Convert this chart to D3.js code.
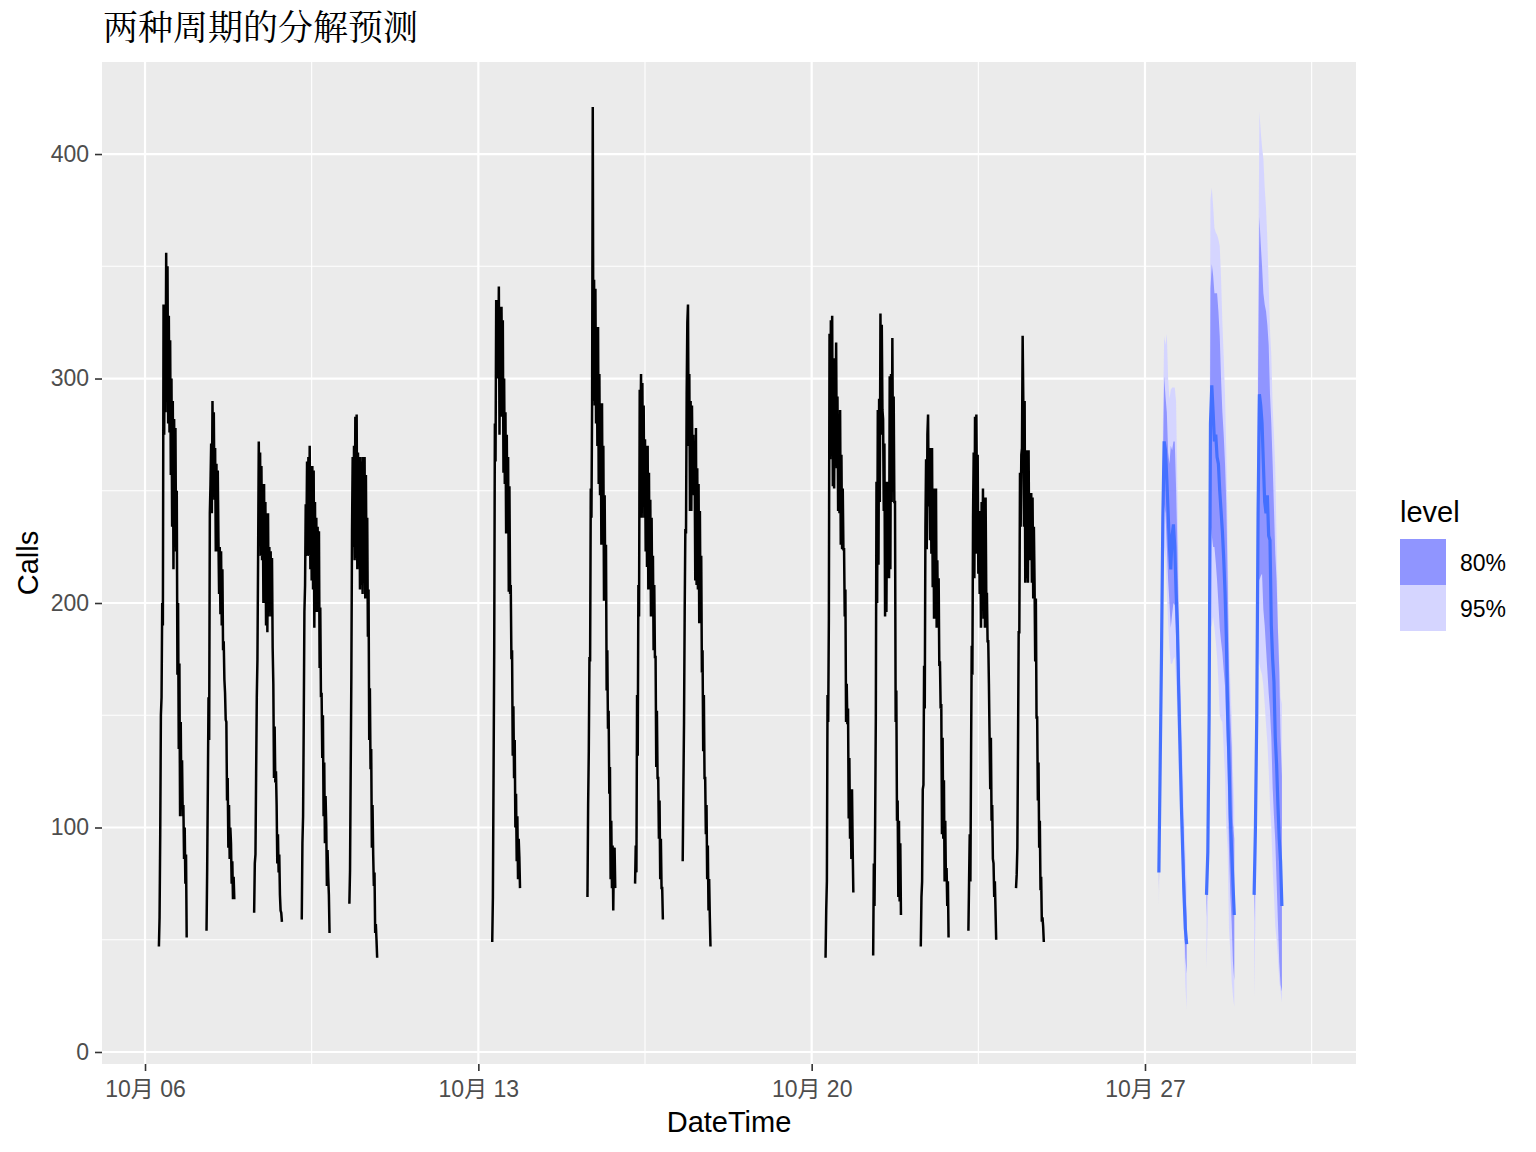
<!DOCTYPE html>
<html>
<head>
<meta charset="utf-8">
<script src="https://cdn.jsdelivr.net/npm/d3@7"></script>
<style>
  body { margin: 0; background: #fff; }
</style>
</head>
<body>
<div id="chart"></div>
<script>
/* call volume: 3 weeks of history + 3 day decomposition forecast */

// history, one value per 20 minutes from 07:00 to 21:00
const oct06 = [47,60,97,150,158,200,190,333,275,330,285,356,290,350,280,328,276,317,257,300,234,290,215,282,248,278,223,250,168,200,135,173,105,147,112,130,105,110,86,100,75,88,51];
const oct07 = [54,82,118,158,139,240,253,271,240,290,255,285,246,269,223,262,223,259,229,204,225,195,223,190,215,179,183,166,160,148,147,112,122,91,110,86,100,93,75,85,68,78,68];
const oct08 = [62,84,88,124,158,175,221,272,230,267,221,261,219,250,200,253,202,245,190,240,187,240,194,225,198,223,194,220,180,164,122,145,120,125,110,84,97,80,88,70,63,62,58];
const oct09 = [59,93,105,147,196,208,244,227,263,221,265,221,270,215,261,210,261,206,259,189,245,196,238,196,234,196,232,171,198,158,160,131,150,105,129,93,114,101,74,90,78,70,53];
const oct10 = [66,81,126,168,232,265,225,270,219,283,220,284,215,267,232,265,206,265,208,263,204,265,210,265,202,257,208,238,185,206,139,162,126,135,91,110,88,74,80,53,57,50,42];
const oct13 = [49,69,124,179,280,263,335,300,335,302,341,275,332,283,332,290,326,258,300,253,285,231,275,231,265,205,252,204,208,175,179,132,154,122,139,100,115,85,105,77,95,87,73];
const oct15 = [69,110,134,176,174,251,238,288,421,290,344,288,340,280,323,270,323,253,302,248,289,226,289,226,270,201,248,201,226,161,179,144,152,115,127,77,103,73,92,63,90,91,73];
const oct16 = [75,92,80,159,132,208,194,295,273,302,238,298,250,288,238,273,223,270,216,270,206,258,206,246,194,238,194,221,179,208,176,176,127,152,122,122,95,112,77,95,73,73,59];
const oct17 = [85,117,147,196,233,231,293,325,333,270,302,241,290,241,288,255,275,248,265,210,278,208,260,206,253,191,241,191,221,169,179,134,159,122,122,97,110,77,92,63,77,60,47];
const oct20 = [42,63,76,159,147,193,320,264,326,268,328,252,309,251,309,279,316,260,292,241,279,240,286,226,266,224,251,224,224,194,206,147,164,146,153,104,131,95,117,86,117,91,71];
const oct21 = [43,84,65,103,149,254,200,286,217,291,245,329,275,324,286,282,241,271,194,249,196,254,217,247,211,301,215,302,245,318,260,292,245,245,147,161,103,112,69,103,67,93,61];
const oct22 = [47,69,76,117,119,172,153,234,264,224,275,284,243,269,228,269,222,269,207,251,193,251,193,251,189,219,189,211,172,174,153,155,97,140,95,121,76,103,76,82,65,76,51];
const oct23 = [54,76,97,76,131,181,168,238,267,211,283,222,284,241,266,213,241,204,241,189,245,200,251,193,247,189,247,204,204,183,183,164,140,117,140,103,110,86,84,69,76,63,50];
const oct24 = [73,79,91,136,187,187,258,234,266,269,319,290,234,290,209,266,211,268,209,268,219,249,222,249,209,247,202,234,209,174,202,149,149,112,129,91,103,72,78,58,60,56,49];

const histDays = ["2003-10-06","2003-10-07","2003-10-08","2003-10-09","2003-10-10",
                  "2003-10-13","2003-10-15","2003-10-16","2003-10-17",
                  "2003-10-20","2003-10-21","2003-10-22","2003-10-23","2003-10-24"];
const histCalls = [oct06,oct07,oct08,oct09,oct10,oct13,oct15,oct16,oct17,oct20,oct21,oct22,oct23,oct24];
const histStep = 20;   // minutes

// forecast, one value per 40 minutes from 07:00 to 21:00
const fcDays = ["2003-10-27","2003-10-28","2003-10-29"];
const fcStep = 40;
const fcMean = [
  [80,129,178,238,272,268,255,240,225,215,230,235,225,205,190,160,135,110,90,70,55,48],
  [70,89,150,280,297,285,272,275,265,262,250,241,232,220,205,185,150,130,105,90,75,61],
  [70,100,150,240,293,288,280,262,245,240,248,230,228,190,175,165,140,128,110,95,85,65]];
const fcLo80 = [
  [72,118,165,220,244,240,225,210,200,189,195,200,199,184,170,140,123,97,74,60,42,35],
  [60,78,130,236,230,225,225,218,210,200,189,183,178,170,163,145,125,90,70,58,40,32],
  [58,84,110,215,210,212,213,197,190,180,170,160,152,140,118,105,94,76,58,40,30,27]];
const fcHi80 = [
  [88,140,195,260,301,292,285,267,262,270,268,272,272,251,225,190,163,137,110,90,74,60],
  [80,100,185,340,351,346,338,338,338,330,319,300,285,275,262,244,210,170,150,136,102,95],
  [85,120,190,300,372,360,350,338,333,330,324,315,293,280,262,242,222,210,188,170,140,123]];
const fcLo95 = [
  [65,110,155,205,225,220,205,191,180,173,173,175,176,165,150,125,110,90,70,50,30,19],
  [37,60,110,189,190,194,189,183,176,165,150,148,147,135,123,100,90,55,45,32,25,20],
  [24,60,90,181,173,170,168,163,155,146,138,126,110,100,82,70,56,50,42,32,27,22]];
const fcHi95 = [
  [95,150,205,280,319,315,320,300,291,295,296,296,296,290,251,210,176,150,130,105,90,75],
  [85,110,210,380,385,377,367,365,364,362,359,345,325,310,293,267,230,185,165,150,125,110],
  [100,135,215,330,419,410,403,398,385,376,362,342,322,310,288,275,260,228,190,175,158,155]];

const yMajor = [0,100,200,300,400],
      yMinor = [50,150,250,350];
const levels = ["80%","95%"];

const width = 1536, height = 1152,
      panel = ({left: 102, right: 1356, top: 62, bottom: 1064});

const fill80 = "#9095ff", fill95 = "#d5d5ff", meanColor = "#4470ff";
const font = "'Liberation Sans', Arial, 'Noto Sans CJK SC', sans-serif";

const parseDay = d3.timeParse("%Y-%m-%d");
const at7 = s => d3.timeHour.offset(parseDay(s), 7);

// build point lists per day
const history = histDays.map((s, k) => histCalls[k].map((v, i) => ({t: d3.timeMinute.offset(at7(s), i*histStep), v})));
const forecast = fcDays.map((s, k) => fcMean[k].map((v, i) => ({
    t: d3.timeMinute.offset(at7(s), i*fcStep),
    mean: v, lo80: fcLo80[k][i], hi80: fcHi80[k][i], lo95: fcLo95[k][i], hi95: fcHi95[k][i]})));

let svg = d3.select("#chart")
    .append("svg")
    .attr("width", width)
    .attr("height", height)
    .style("font-family", font);

let x = d3.scaleTime()
    .domain([new Date(2003, 9, 5, 2, 19), new Date(2003, 9, 31, 10, 21)])
    .range([panel.left, panel.right]);

let y = d3.scaleLinear()
    .domain([-5.35, 441])
    .range([panel.bottom, panel.top]);

const xMajor = d3.timeMonday.range(x.domain()[0], x.domain()[1]);
const xMinor = [d3.timeHour.offset(xMajor[0], -84)].concat(xMajor.map(d => d3.timeHour.offset(d, 84)))
    .filter(d => d > x.domain()[0] && d < x.domain()[1]);

// panel + grid
svg.append("rect")
    .attr("x", panel.left).attr("y", panel.top)
    .attr("width", panel.right - panel.left).attr("height", panel.bottom - panel.top)
    .attr("fill", "#ebebeb");

let grid = svg.append("g").attr("stroke", "#fff");
grid.selectAll(".ymin").data(yMinor).join("line")
    .attr("x1", panel.left).attr("x2", panel.right)
    .attr("y1", d => y(d)).attr("y2", d => y(d)).attr("stroke-width", 1.1);
grid.selectAll(".xmin").data(xMinor).join("line")
    .attr("y1", panel.top).attr("y2", panel.bottom)
    .attr("x1", d => x(d)).attr("x2", d => x(d)).attr("stroke-width", 1.1);
grid.selectAll(".ymaj").data(yMajor).join("line")
    .attr("x1", panel.left).attr("x2", panel.right)
    .attr("y1", d => y(d)).attr("y2", d => y(d)).attr("stroke-width", 2.2);
grid.selectAll(".xmaj").data(xMajor).join("line")
    .attr("y1", panel.top).attr("y2", panel.bottom)
    .attr("x1", d => x(d)).attr("x2", d => x(d)).attr("stroke-width", 2.2);

svg.append("clipPath").attr("id", "clip")
    .append("rect")
    .attr("x", panel.left).attr("y", panel.top)
    .attr("width", panel.right - panel.left).attr("height", panel.bottom - panel.top);

let plot = svg.append("g").attr("clip-path", "url(#clip)");

// forecast intervals
const area95 = d3.area().x(d => x(d.t)).y0(d => y(d.lo95)).y1(d => y(d.hi95));
const area80 = d3.area().x(d => x(d.t)).y0(d => y(d.lo80)).y1(d => y(d.hi80));
const meanLine = d3.line().x(d => x(d.t)).y(d => y(d.mean));

plot.selectAll(".a95").data(forecast).join("path")
    .attr("d", area95).attr("fill", fill95);
plot.selectAll(".a80").data(forecast).join("path")
    .attr("d", area80).attr("fill", fill80);
plot.selectAll(".mean").data(forecast).join("path")
    .attr("d", meanLine).attr("fill", "none")
    .attr("stroke", meanColor).attr("stroke-width", 3.2);

// history lines, one per day so nights stay empty
const line = d3.line().x(d => x(d.t)).y(d => y(d.v));
plot.selectAll(".day").data(history).join("path")
    .attr("d", line).attr("fill", "none")
    .attr("stroke", "#000").attr("stroke-width", 2.5)
    .attr("stroke-linejoin", "miter");

// axes
const yAxis = g => g
    .attr("transform", `translate(${panel.left},0)`)
    .call(d3.axisLeft(y).tickValues(yMajor).tickSize(7).tickPadding(6))
    .call(g => g.select(".domain").remove());

const xAxis = g => g
    .attr("transform", `translate(0,${panel.bottom})`)
    .call(d3.axisBottom(x).tickValues(xMajor).tickFormat(d3.timeFormat("%m月 %d")).tickSize(7).tickPadding(10))
    .call(g => g.select(".domain").remove());

svg.append("g").call(yAxis);
svg.append("g").call(xAxis);

svg.selectAll(".tick line").attr("stroke", "#333").attr("stroke-width", 1.6);
svg.selectAll(".tick text")
    .attr("fill", "#4d4d4d")
    .style("font-family", font)
    .style("font-size", "23px");

// titles
svg.append("text")
    .attr("x", (panel.left + panel.right) / 2).attr("y", 1132)
    .attr("text-anchor", "middle")
    .style("font-size", "29px")
    .text("DateTime");

svg.append("text")
    .attr("transform", `translate(38,${(panel.top + panel.bottom) / 2}) rotate(-90)`)
    .attr("text-anchor", "middle")
    .style("font-size", "29px")
    .text("Calls");

svg.append("text")
    .attr("x", 103).attr("y", 40)
    .style("font-family", "'Noto Serif CJK SC', 'Noto Sans CJK SC', serif")
    .style("font-size", "35px")
    .text("两种周期的分解预测");

// legend
let legend = svg.append("g").attr("transform", "translate(1400,0)");
legend.append("text")
    .attr("x", 0).attr("y", 522)
    .style("font-size", "29px")
    .text("level");

legend.selectAll("rect").data(levels).join("rect")
    .attr("x", 0).attr("y", (d, i) => 539 + i*46)
    .attr("width", 46).attr("height", 46)
    .attr("fill", d => d == "80%" ? fill80 : fill95);

legend.selectAll(".lab").data(levels).join("text")
    .attr("x", 60).attr("y", (d, i) => 562 + i*46)
    .attr("dy", "0.4em")
    .style("font-size", "23px")
    .text(d => d);
</script>
</body>
</html>
